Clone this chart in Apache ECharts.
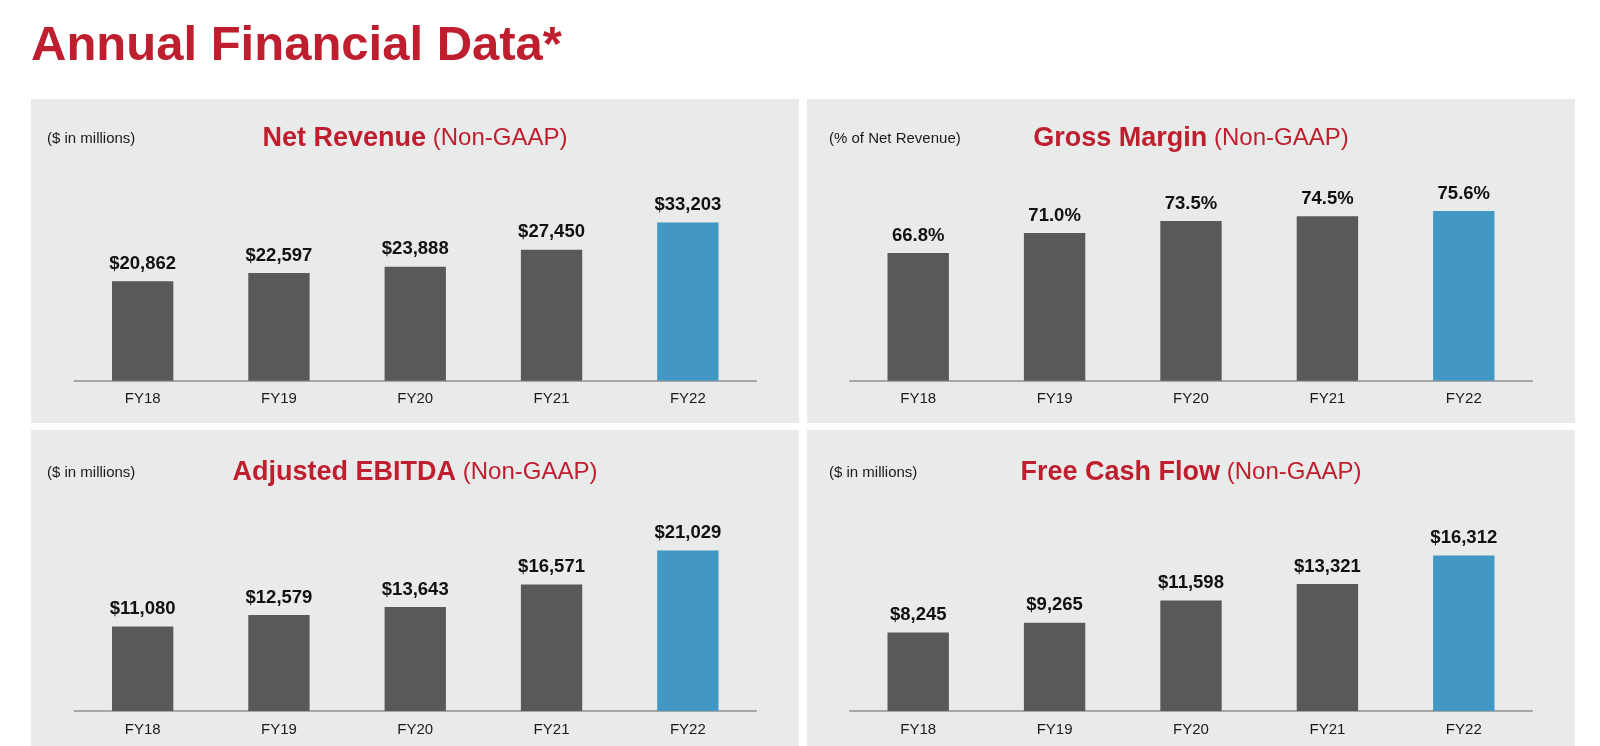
<!DOCTYPE html>
<html>
<head>
<meta charset="utf-8">
<title>Annual Financial Data</title>
<script src="https://cdn.jsdelivr.net/npm/echarts@6/dist/echarts.min.js"></script>
<style>
  html, body { margin: 0; padding: 0; background: #ffffff; }
  #chart { width: 1600px; height: 746px; }
</style>
</head>
<body>
<div id="chart"></div>
<script>
// ---- Data ----
const categories = ['FY18', 'FY19', 'FY20', 'FY21', 'FY22'];
const highlightCategory = 'FY22';
const netRevenue = [20862, 22597, 23888, 27450, 33203];
const grossMargin = [66.8, 71.0, 73.5, 74.5, 75.6];
const adjustedEbitda = [11080, 12579, 13643, 16571, 21029];
const freeCashFlow = [8245, 9265, 11598, 13321, 16312];

const mainTitle = 'Annual Financial Data*';
const panelTitles = ['Net Revenue', 'Gross Margin', 'Adjusted EBITDA', 'Free Cash Flow'];
const panelSuffix = ' (Non-GAAP)';
const panelUnits = ['($ in millions)', '(% of Net Revenue)', '($ in millions)', '($ in millions)'];

// ---- Style ----
const FONT = "'Liberation Sans', Arial, Helvetica, sans-serif";
const RED = '#BE1E2D';
const GRAY_BAR = '#595959';
const BLUE_BAR = '#4397C4';
const PANEL_BG = '#E9EAEA';

const chart = echarts.init(document.getElementById('chart'), null, { renderer: 'canvas' });

const fmtDollar = v => '$' + Number(v).toLocaleString('en-US');
const fmtPct = v => Number(v).toFixed(1) + '%';

const panels = [
  { x: 31, y: 99, w: 768, h: 324, grid: { left: 74.5, top: 190, width: 681.5, height: 190.7 }, data: netRevenue, min: 0, max: 40000, fmt: fmtDollar, titleY: 138.5, unitX: 47 },
  { x: 807, y: 99, w: 768, h: 324, grid: { left: 850, top: 190, width: 682, height: 190.7 }, data: grossMargin, min: 40, max: 80, fmt: fmtPct, titleY: 138.5, unitX: 829 },
  { x: 31, y: 430, w: 768, h: 316, grid: { left: 74.5, top: 520.3, width: 681.5, height: 190.7 }, data: adjustedEbitda, min: 0, max: 25000, fmt: fmtDollar, titleY: 472.5, unitX: 47 },
  { x: 807, y: 430, w: 768, h: 316, grid: { left: 850, top: 520.3, width: 682, height: 190.7 }, data: freeCashFlow, min: 0, max: 20000, fmt: fmtDollar, titleY: 472.5, unitX: 829 }
];

const graphics = [];
panels.forEach((p, i) => {
  graphics.push({
    type: 'rect', z: -10, silent: true,
    shape: { x: p.x, y: p.y, width: p.w, height: p.h },
    style: { fill: PANEL_BG }
  });
  graphics.push({
    type: 'text', z: 10, silent: true,
    style: {
      x: p.unitX, y: p.titleY, text: panelUnits[i],
      font: '15px ' + FONT, fill: '#1a1a1a',
      align: 'left', verticalAlign: 'middle'
    }
  });
  graphics.push({
    type: 'text', z: 10, silent: true,
    style: {
      x: p.x + p.w / 2, y: p.titleY,
      text: '{b|' + panelTitles[i] + '}{r|' + panelSuffix + '}',
      align: 'center', verticalAlign: 'middle',
      rich: {
        b: { fontFamily: FONT, fontSize: 27, fontWeight: 'bold', fill: RED, color: RED },
        r: { fontFamily: FONT, fontSize: 24, fontWeight: 'normal', fill: RED, color: RED }
      }
    }
  });
});
graphics.push({
  type: 'text', z: 10, silent: true,
  style: {
    x: 31, y: 46, text: mainTitle,
    font: 'bold 49px ' + FONT, fill: RED,
    align: 'left', verticalAlign: 'middle'
  }
});

const option = {
  backgroundColor: '#ffffff',
  animation: false,
  textStyle: { fontFamily: FONT },
  graphic: { elements: graphics },
  grid: panels.map(p => Object.assign({ containLabel: false }, p.grid)),
  xAxis: panels.map((p, i) => ({
    type: 'category',
    gridIndex: i,
    data: categories,
    axisLine: { show: true, lineStyle: { color: '#A6A6A6', width: 2 } },
    axisTick: { show: false },
    axisLabel: { color: '#1a1a1a', fontSize: 15, fontFamily: FONT, margin: 11 },
    splitLine: { show: false }
  })),
  yAxis: panels.map((p, i) => ({
    type: 'value',
    gridIndex: i,
    min: p.min,
    max: p.max,
    show: false,
    splitLine: { show: false }
  })),
  series: panels.map((p, i) => ({
    type: 'bar',
    xAxisIndex: i,
    yAxisIndex: i,
    data: p.data,
    barWidth: '45%',
    itemStyle: {
      color: params => (categories[params.dataIndex] === highlightCategory ? BLUE_BAR : GRAY_BAR)
    },
    label: {
      show: true,
      position: 'top',
      distance: 8,
      color: '#111111',
      fontFamily: FONT,
      fontWeight: 'bold',
      fontSize: 18.5,
      formatter: params => p.fmt(params.value)
    }
  }))
};

chart.setOption(option);
</script>
</body>
</html>
